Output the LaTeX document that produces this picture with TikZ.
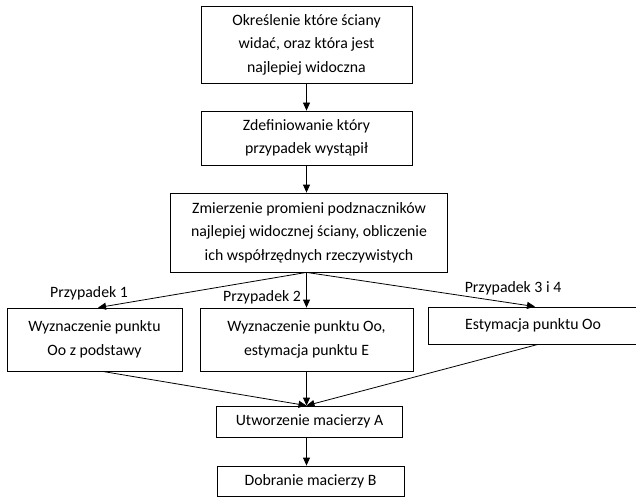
\documentclass[tikz,border=0pt]{standalone}
\usepackage{fontspec}
\setmainfont{Carlito}
\usetikzlibrary{arrows.meta}
\begin{document}
\begin{tikzpicture}[x=1pt,y=-1pt,
 box/.style={draw=black,line width=0.8pt,inner sep=0pt,align=center,font=\fontsize{15.8}{23.5}\selectfont,text=black},
 arr/.style={-{Triangle[length=8pt,width=7pt]},line width=0.8pt},
 lab/.style={font=\fontsize{15.8}{17}\selectfont,inner sep=0pt,text=black}]
\useasboundingbox (0,0) rectangle (636,497);
\node[box,minimum width=211pt,minimum height=77pt] (b1) at (306.5,44.5) {Określenie które ściany\\widać, oraz która jest\\najlepiej widoczna};
\node[box,minimum width=211pt,minimum height=54pt] (b2) at (306.5,138) {Zdefiniowanie który\\przypadek wystąpił};
\node[box,minimum width=277pt,minimum height=79pt] (b3) at (309,232.5) {Zmierzenie promieni podznaczników\\najlepiej widocznej ściany, obliczenie\\ich współrzędnych rzeczywistych};
\node[box,minimum width=175pt,minimum height=63pt] (b4) at (94.5,339.5) {Wyznaczenie punktu\\Oo z podstawy};
\node[box,minimum width=213pt,minimum height=63pt] (b5) at (306.5,339.5) {Wyznaczenie punktu Oo,\\estymacja punktu E};
\node[box,minimum width=210pt,minimum height=37pt] (b6) at (533,325.5) {Estymacja punktu Oo};
\node[box,minimum width=186pt,minimum height=31pt] (b7) at (309.5,421.5) {Utworzenie macierzy A};
\node[box,minimum width=187pt,minimum height=30pt] (b8) at (310.5,481) {Dobranie macierzy B};
\node[lab] (l1) at (89,293) {Przypadek 1};
\node[lab] (l2) at (262,297) {Przypadek 2};
\node[lab] (l3) at (513,288) {Przypadek 3 i 4};
\coordinate (s3) at (b3.south -| b2.south);
\coordinate (t7) at (b7.north -| b2.south);
\coordinate (s7) at (b7.south -| b2.south);
\coordinate (t8) at (b8.north -| b2.south);
\draw[arr] (b1.south) -- (b2.north);
\draw[arr] (b2.south) -- (b2.south |- b3.north);
\draw[arr] (s3) -- ([xshift=3.5pt]b4.north);
\draw[arr] (s3) -- (s3 |- b5.north);
\draw[arr] (s3) -- ([xshift=2pt]b6.north);
\draw[arr] ([xshift=8pt]b4.south) -- (t7);
\draw[arr] (b5.south -| s3) -- (t7);
\draw[arr] ([xshift=5pt]b6.south) -- (t7);
\draw[arr] (s7) -- (t8);
\end{tikzpicture}
\end{document}
